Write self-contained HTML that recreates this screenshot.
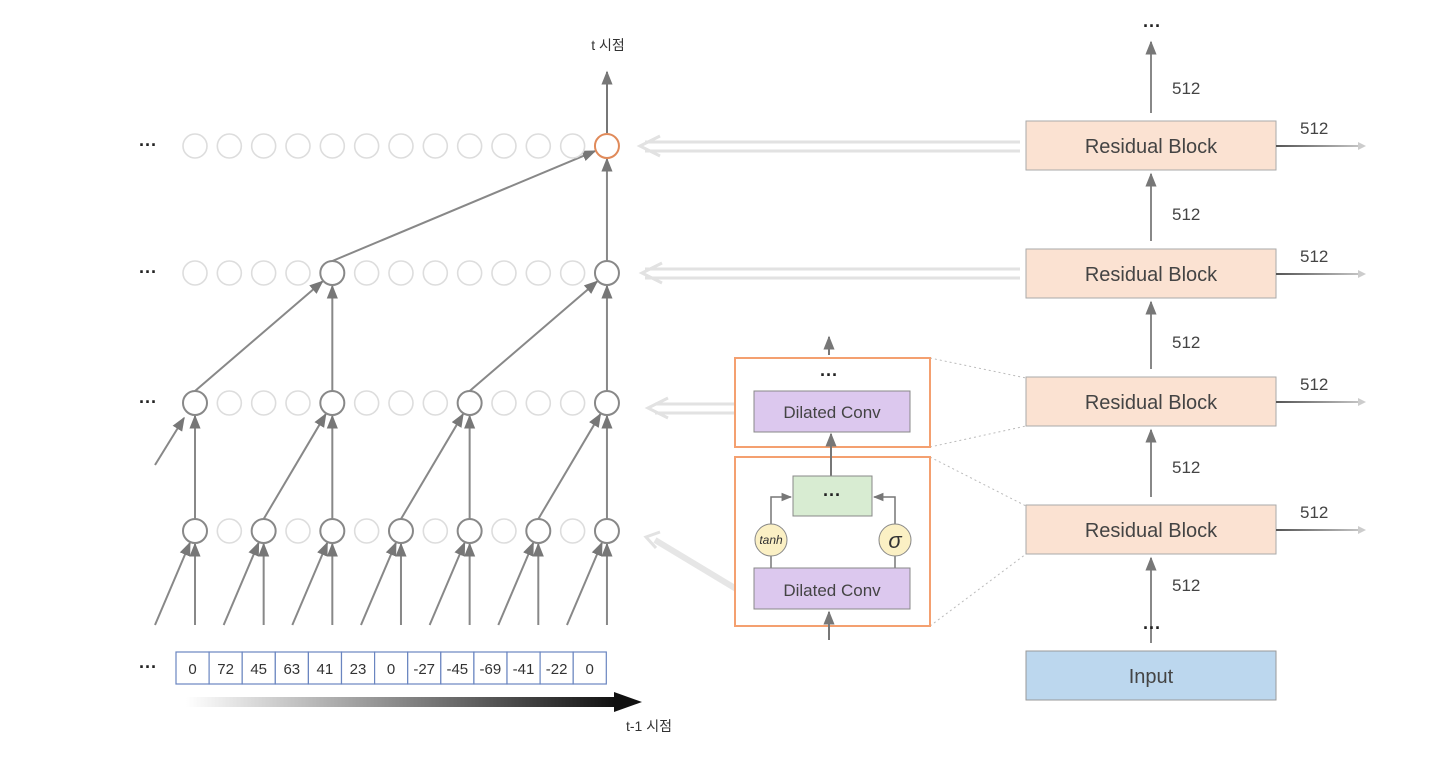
<!DOCTYPE html>
<html><head><meta charset="utf-8"><style>
html,body{margin:0;padding:0;background:#fff;width:1440px;height:765px;overflow:hidden}
svg{display:block}
text{font-family:"Liberation Sans","Noto Sans CJK KR",sans-serif}
</style></head><body>
<svg id="s" width="1440" height="765" viewBox="0 0 1440 765" xmlns="http://www.w3.org/2000/svg">
<defs>
<marker id="ah" viewBox="0 0 10 10" refX="9" refY="5" markerWidth="7" markerHeight="7" orient="auto-start-reverse"><path d="M0,1 L10,5 L0,9 z" fill="#777"/></marker>
<linearGradient id="tg" x1="0" x2="1"><stop offset="0" stop-color="#fff"/><stop offset="1" stop-color="#111"/></linearGradient>
<linearGradient id="rg" gradientUnits="userSpaceOnUse" x1="1276" y1="0" x2="1366" y2="0"><stop offset="0" stop-color="#555"/><stop offset="1" stop-color="#ccc"/></linearGradient>
</defs>
<g id="lines" stroke="#888" stroke-width="2" fill="none"></g>
<g id="nodes"></g>

<line x1="607" y1="133" x2="607" y2="72" stroke="#777" stroke-width="2" marker-end="url(#ah)"/>
<text x="608" y="50" font-size="14" text-anchor="middle" fill="#333">t 시점</text>

<g font-size="18" fill="#222" font-weight="bold">
<text x="139" y="151">···</text><text x="139" y="278">···</text><text x="139" y="408">···</text><text x="139" y="673">···</text>
</g>

<g id="seq"></g>
<rect x="186" y="697" width="430" height="10" fill="url(#tg)"/>
<path d="M614,692 L642,702 L614,712 z" fill="#111"/>
<text x="672" y="731" font-size="14" text-anchor="end" fill="#333">t-1 시점</text>

<g stroke="#e2e2e2" stroke-width="3" fill="none">
<line x1="1020" y1="142" x2="645" y2="142"/><line x1="1020" y1="151" x2="645" y2="151"/>
<polyline points="660,136 640,146 660,156"/>
<line x1="1020" y1="269" x2="645" y2="269"/><line x1="1020" y1="278" x2="645" y2="278"/>
<polyline points="662,263 642,273 662,283"/>
<line x1="740" y1="404" x2="655" y2="404"/><line x1="740" y1="413" x2="655" y2="413"/>
<polyline points="668,398 648,408 668,418"/>
<line x1="738" y1="590" x2="655" y2="540" stroke-width="6" stroke="#e6e6e6"/>
<polyline points="660,532 646,537 656,548"/>
</g>

<g stroke="#bbb" stroke-width="1" stroke-dasharray="2,3" fill="none">
<line x1="930" y1="358" x2="1026" y2="378"/><line x1="930" y1="447" x2="1026" y2="426"/>
<line x1="930" y1="457" x2="1026" y2="506"/><line x1="930" y1="626" x2="1026" y2="554"/>
</g>
<rect x="735" y="358" width="195" height="89" fill="#fff" stroke="#f4a070" stroke-width="2"/>
<rect x="735" y="457" width="195" height="169" fill="#fff" stroke="#f4a070" stroke-width="2"/>
<line x1="829" y1="355" x2="829" y2="337" stroke="#777" stroke-width="2" marker-end="url(#ah)"/>
<text x="829" y="381" font-size="18" font-weight="bold" text-anchor="middle" fill="#222">···</text>
<rect x="754" y="391" width="156" height="41" fill="#dcc8ee" stroke="#888"/>
<text x="832" y="418" font-size="17" text-anchor="middle" fill="#444">Dilated Conv</text>
<line x1="831" y1="476" x2="831" y2="434" stroke="#777" stroke-width="2" marker-end="url(#ah)"/>
<rect x="793" y="476" width="79" height="40" fill="#d8ecd2" stroke="#888"/>
<text x="832" y="501" font-size="18" font-weight="bold" text-anchor="middle" fill="#222">···</text>
<polyline points="771,524 771,497 791,497" stroke="#777" stroke-width="1.5" fill="none" marker-end="url(#ah)"/>
<polyline points="895,524 895,497 874,497" stroke="#777" stroke-width="1.5" fill="none" marker-end="url(#ah)"/>
<line x1="771" y1="556" x2="771" y2="568" stroke="#777" stroke-width="1.5"/>
<line x1="895" y1="556" x2="895" y2="568" stroke="#777" stroke-width="1.5"/>
<circle cx="771" cy="540" r="16" fill="#fbf0c4" stroke="#888"/>
<circle cx="895" cy="540" r="16" fill="#fbf0c4" stroke="#888"/>
<text x="771" y="544" font-size="12" font-style="italic" text-anchor="middle" fill="#333" font-family="Liberation Serif">tanh</text>
<text x="895" y="548" font-size="22" font-style="italic" text-anchor="middle" fill="#333" font-family="Liberation Serif">σ</text>
<rect x="754" y="568" width="156" height="41" fill="#dcc8ee" stroke="#888"/>
<text x="832" y="596" font-size="17" text-anchor="middle" fill="#444">Dilated Conv</text>
<line x1="829" y1="640" x2="829" y2="612" stroke="#777" stroke-width="2" marker-end="url(#ah)"/>

<g id="right"></g>
<text x="1152" y="32" font-size="18" font-weight="bold" text-anchor="middle" fill="#222">···</text>
<text x="1152" y="634" font-size="18" font-weight="bold" text-anchor="middle" fill="#222">···</text>
<rect x="1026" y="651" width="250" height="49" fill="#bcd7ee" stroke="#999"/>
<text x="1151" y="683" font-size="20" text-anchor="middle" fill="#444">Input</text>
</svg>
<script>
var NS="http://www.w3.org/2000/svg";
function el(p,t,a,txt){var e=document.createElementNS(NS,t);for(var k in a)e.setAttribute(k,a[k]);if(txt!==undefined)e.textContent=txt;document.getElementById(p).appendChild(e);return e;}
var xs=[];for(var i=0;i<13;i++)xs.push(195+i*34.33);
var ys=[146,273,403,531];
var act=[[12],[4,12],[0,4,8,12],[0,2,4,6,8,10,12]];
var R=12;
function arrow(x1,y1,x2,y2){var dx=x2-x1,dy=y2-y1,l=Math.hypot(dx,dy);x2-=dx/l*(R+1);y2-=dy/l*(R+1);el("lines","line",{x1:x1,y1:y1,x2:x2,y2:y2,"marker-end":"url(#ah)"});}
for(var L=0;L<3;L++){var step=[8,4,2][L];act[L].forEach(function(i){
 arrow(xs[i],ys[L+1]-R,xs[i],ys[L]);
 var j=i-step; if(j>=0) arrow(xs[j],ys[L+1]-R,xs[i],ys[L]);
});}
el("lines","line",{x1:155,y1:465,x2:184,y2:418,"marker-end":"url(#ah)"});
act[3].forEach(function(i){arrow(xs[i],625,xs[i],ys[3]);arrow(xs[i]-40,625,xs[i],ys[3]);});
for(var L=0;L<4;L++)for(var i=0;i<13;i++){
 var on=act[L].indexOf(i)>=0;
 el("nodes","circle",{cx:xs[i],cy:ys[L],r:R,fill:"#fff",stroke:(L==0&&i==12)?"#e08a5a":(on?"#888":"#ddd"),"stroke-width":on?2:1.6});
}
var vals=["0","72","45","63","41","23","0","-27","-45","-69","-41","-22","0"];
for(var i=0;i<13;i++){var x=176+i*33.1;el("seq","rect",{x:x,y:652,width:33.1,height:32,fill:"#fff",stroke:"#6a85c0","stroke-width":1.2});
 el("seq","text",{x:x+16.5,y:674,"font-size":15,"text-anchor":"middle",fill:"#333"},vals[i]);}
var by=[121,249,377,505];
var segs=[[651,558],[505,430],[377,302],[249,174],[121,42]];
segs.forEach(function(s){el("right","line",{x1:1151,y1:s[0]-8,x2:1151,y2:s[1],stroke:"#888","stroke-width":2,"marker-end":"url(#ah)"});});
[584,466,341,213,87].forEach(function(y){el("right","text",{x:1172,y:y+7,"font-size":17,fill:"#444"},"512");});
by.forEach(function(y){
 el("right","rect",{x:1026,y:y,width:250,height:49,fill:"#fbe2d2",stroke:"#aaa"});
 el("right","text",{x:1151,y:y+32,"font-size":20,"text-anchor":"middle",fill:"#444"},"Residual Block");
 el("right","line",{x1:1276,y1:y+25,x2:1360,y2:y+25,stroke:"url(#rg)","stroke-width":2});
 el("right","path",{d:"M1358,"+(y+21)+" L1366,"+(y+25)+" L1358,"+(y+29)+" z",fill:"#ccc"});
 el("right","text",{x:1300,y:y+13,"font-size":17,fill:"#444"},"512");
});
</script>
</body></html>
